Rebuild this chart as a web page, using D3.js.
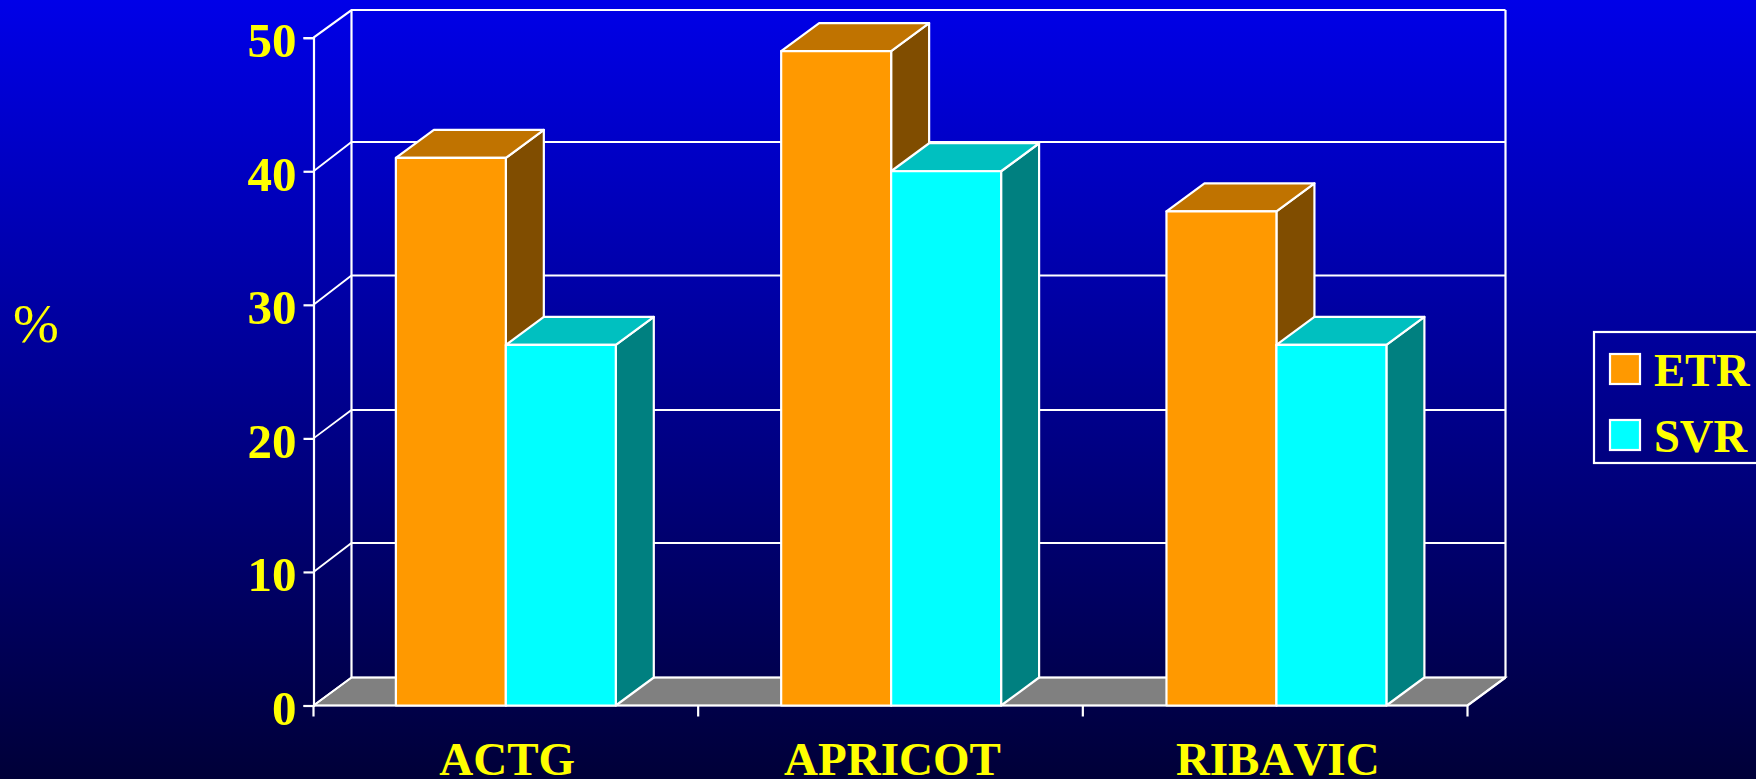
<!DOCTYPE html>
<html>
<head>
<meta charset="utf-8">
<style>
  html, body { margin: 0; padding: 0; background: #000033; overflow: hidden; }
  svg { display: block; }
  text { font-family: "Liberation Serif", "Times New Roman", serif; fill: #ffff00; font-kerning: none; }
</style>
<script src="https://cdn.jsdelivr.net/npm/d3@7/dist/d3.min.js"></script>
</head>
<body>
<svg id="chart" width="1756" height="779"></svg>
<script>
// Response rates by study
const categories = ["ACTG", "APRICOT", "RIBAVIC"];
const seriesNames = ["ETR", "SVR"];
const etrValues = [41, 49, 37];
const svrValues = [27, 40, 27];
const yTicks = [0, 10, 20, 30, 40, 50];
const unitLabel = "%";

const faceColours = {
  ETR: { front: "#ff9900", top: "#c07300", side: "#804d00" },
  SVR: { front: "#00ffff", top: "#00c0c0", side: "#008080" }
};

const width = 1756, height = 779;
const depthX = 38, depthY = -28;   // oblique offset of the bars' depth

const svg = d3.select("#chart");

// Vertical page gradient
const grad = svg.append("defs").append("linearGradient")
  .attr("id", "page").attr("x1", 0).attr("y1", 0).attr("x2", 0).attr("y2", 1);
grad.append("stop").attr("offset", 0).attr("stop-color", "#0000e8");
grad.append("stop").attr("offset", 1).attr("stop-color", "#000038");
svg.append("rect").attr("width", width).attr("height", height).attr("fill", "url(#page)");

// Axis bands, and a slightly wider band scale that places the bars
const x = d3.scaleBand().domain(categories).range([313.5, 1467.5]);
const xBars = d3.scaleBand().domain(categories).range([313.5, 1469.4]);
const inner = d3.scaleBand().domain(seriesNames)
  .range([0, x.step()]).paddingInner(0).paddingOuter(0.749);
const y = d3.scaleLinear().domain([0, 50]).range([705.5, 37.7]);
// Gridline heights on the back wall
const yBack = d3.scaleLinear().domain(yTicks).range([677.5, 543, 410, 275.5, 142, 10]);

const poly = pts => pts.map(p => p.join(",")).join(" ");
const [x0, x1] = x.range();
const yBase = y(0);

// Floor
svg.append("polygon")
  .attr("points", poly([[x0, yBase], [x0 + depthX, yBack(0)], [x1 + depthX, yBack(0)], [x1, yBase]]))
  .attr("fill", "#808080").attr("stroke", "#ffffff").attr("stroke-width", 1.6);

// Back wall gridlines and the diagonal links to the left wall
const grid = svg.append("g").attr("fill", "none").attr("stroke", "#ffffff");
grid.selectAll("path.level").data(yTicks).join("path")
  .attr("class", "level")
  .attr("stroke-width", d => (d === 50 ? 2.2 : 1.8))
  .attr("d", d => `M${x0},${y(d)}L${x0 + depthX},${yBack(d)}L${x1 + depthX},${yBack(d)}`);
grid.append("path").attr("stroke-width", 2.2)
  .attr("d", `M${x0 + depthX},${yBack(0)}V${yBack(50)}`);
grid.append("path").attr("stroke-width", 2.2)
  .attr("d", `M${x1 + depthX},${yBack(0)}V${yBack(50)}`);

// Value axis with the left wall edge
const yAxis = svg.append("g").attr("transform", `translate(${x0},0)`)
  .call(d3.axisLeft(y).tickValues(yTicks).tickSize(10).tickPadding(7));
yAxis.select(".domain").attr("stroke", "#fff").attr("stroke-width", 2.2);
yAxis.selectAll(".tick line").attr("stroke", "#fff").attr("stroke-width", 2.2);
yAxis.selectAll(".tick text")
  .attr("fill", "#ffff00").attr("dy", 19)
  .style("font-family", '"Liberation Serif", serif')
  .style("font-size", "49px").style("font-weight", "bold");

// Category axis: ticks sit on the band edges, labels on the band centres
const edgeTicks = categories.map(c => x(c)).concat(x1);
const xTicks = svg.append("g");
xTicks.selectAll("line").data(edgeTicks).join("line")
  .attr("x1", d => d).attr("x2", d => d)
  .attr("y1", yBase).attr("y2", yBase + 11)
  .attr("stroke", "#fff").attr("stroke-width", 2.2);
xTicks.append("line").attr("x1", x0).attr("x2", x1)
  .attr("y1", yBase).attr("y2", yBase)
  .attr("stroke", "#fff").attr("stroke-width", 2.2);
xTicks.append("line").attr("x1", x1).attr("x2", x1 + depthX)
  .attr("y1", yBase).attr("y2", yBack(0))
  .attr("stroke", "#fff").attr("stroke-width", 2.2);

svg.append("g").selectAll("text").data(categories).join("text")
  .attr("x", d => xBars(d) + xBars.bandwidth() / 2 + 1)
  .attr("y", 775)
  .attr("text-anchor", "middle")
  .style("font-size", "47px").style("font-weight", "bold")
  .text(d => d);

// Three-faced bars, drawn left to right so nearer faces overlap correctly
const rows = categories.flatMap((c, i) => [
  { category: c, series: "ETR", value: etrValues[i] },
  { category: c, series: "SVR", value: svrValues[i] }
]);
const bars = svg.append("g").selectAll("g").data(rows).join("g")
  .attr("stroke", "#ffffff").attr("stroke-width", 2.2).attr("stroke-linejoin", "round");

const left = d => xBars(d.category) + inner(d.series);
const right = d => left(d) + inner.bandwidth();

bars.append("polygon").attr("fill", d => faceColours[d.series].side)
  .attr("points", d => poly([
    [right(d), yBase], [right(d) + depthX, yBase + depthY],
    [right(d) + depthX, y(d.value) + depthY], [right(d), y(d.value)]
  ]));
bars.append("polygon").attr("fill", d => faceColours[d.series].top)
  .attr("points", d => poly([
    [left(d), y(d.value)], [left(d) + depthX, y(d.value) + depthY],
    [right(d) + depthX, y(d.value) + depthY], [right(d), y(d.value)]
  ]));
bars.append("rect").attr("fill", d => faceColours[d.series].front)
  .attr("x", left).attr("y", d => y(d.value))
  .attr("width", inner.bandwidth())
  .attr("height", d => yBase - y(d.value));

// Legend; its box runs past the right edge of the page
const legend = svg.append("g");
legend.append("rect").attr("x", 1594).attr("y", 332).attr("width", 190).attr("height", 131)
  .attr("fill", "none").attr("stroke", "#fff").attr("stroke-width", 2.2);
const legendRow = d3.scalePoint().domain(seriesNames).range([354, 420]);
const entries = legend.selectAll("g").data(seriesNames).join("g")
  .attr("transform", d => `translate(1610,${legendRow(d)})`);
entries.append("rect").attr("width", 30).attr("height", 30)
  .attr("fill", d => faceColours[d].front).attr("stroke", "#fff").attr("stroke-width", 2.2);
entries.append("text").attr("x", 44).attr("y", 31.5)
  .style("font-size", "46.5px").style("font-weight", "bold")
  .text(d => d);

// Unit label
svg.append("text").attr("x", 36).attr("y", 341.5).attr("text-anchor", "middle")
  .style("font-size", "55px").text(unitLabel);
</script>
</body>
</html>
